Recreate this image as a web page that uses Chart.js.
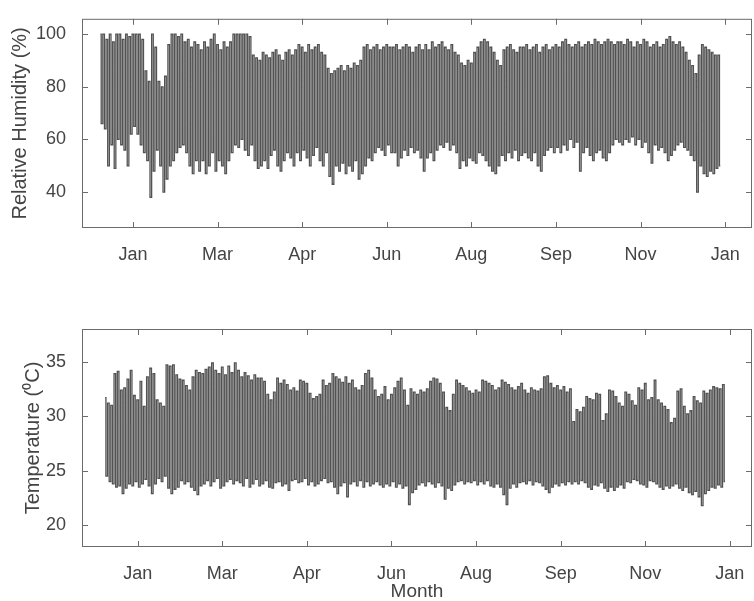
<!DOCTYPE html>
<html>
<head>
<meta charset="utf-8">
<script src="https://cdn.jsdelivr.net/npm/chart.js@4.4.1/dist/chart.umd.min.js"></script>
<style>
  body { margin: 0; background: #fff; }
  canvas { position: absolute; left: 0; }
  #rhChart { top: 0; }
  #tChart { top: 290px; }
</style>
</head>
<body>
<canvas id="rhChart" width="754" height="290"></canvas>
<canvas id="tChart" width="754" height="311"></canvas>
<script>
// Month tick labels and where they sit (days from start of record)
const monthLabels = ["Jan", "Mar", "Apr", "Jun", "Aug", "Sep", "Nov", "Jan"];
const monthTickDays = [20, 72, 124, 176, 228, 280, 332, 384];
const rhTicks = [40, 60, 80, 100];
const tTicks = [20, 25, 30, 35];

// Relative humidity: max and min of each 2-day block
const rhHigh = [
  100, 100, 98, 100, 97, 100, 100, 98, 100, 99,
  100, 100, 100, 98, 86, 82, 100, 95, 82, 80,
  84, 96, 100, 100, 99, 100, 97, 98, 95, 97,
  96, 94, 97, 95, 98, 100, 96, 94, 97, 95,
  97, 100, 100, 100, 100, 100, 99, 92, 91, 90,
  93, 92, 91, 93, 94, 92, 90, 93, 94, 92,
  94, 96, 95, 93, 96, 94, 95, 96, 93, 92,
  87, 85, 86, 87, 88, 86, 88, 87, 89, 88,
  90, 95, 96, 94, 95, 96, 94, 95, 96, 95,
  95, 96, 94, 95, 96, 95, 93, 95, 96, 94,
  96, 94, 97, 95, 96, 97, 95, 94, 96, 93,
  92, 89, 88, 90, 89, 93, 95, 97, 98, 97,
  95, 93, 90, 88, 94, 95, 96, 94, 93, 95,
  95, 96, 94, 95, 96, 93, 95, 96, 94, 95,
  96, 95, 97, 98, 96, 95, 96, 97, 95, 96,
  97, 96, 98, 97, 96, 97, 98, 97, 96, 97,
  97, 96, 98, 97, 95, 97, 96, 98, 97, 95,
  96, 97, 95, 96, 98, 99, 97, 96, 97, 95,
  93, 90, 88, 85, 92, 96, 95, 94, 93, 92, 92
];
const rhLow = [
  66, 64, 50, 58, 49, 60, 58, 56, 50, 62,
  65, 62, 58, 55, 52, 38, 48, 56, 50, 40,
  45, 50, 52, 55, 57, 58, 55, 50, 47, 52,
  48, 52, 47, 50, 55, 48, 52, 50, 47, 52,
  55, 58, 57, 60, 56, 54, 58, 52, 49, 50,
  52, 49, 54, 56, 50, 48, 52, 55, 53, 50,
  55, 52, 56, 53, 50, 54, 57, 52, 50, 55,
  46, 43, 50, 48, 51, 47, 50, 48, 52, 45,
  47, 50, 53, 52, 55, 57, 56, 54, 58, 55,
  55, 50, 53, 56, 54, 57, 55, 56, 53, 48,
  53, 55, 52, 56, 58, 57, 59, 56, 58, 55,
  49, 52, 50, 53, 52, 51, 55, 54, 52, 50,
  48, 47, 50, 54, 52, 55, 53, 56, 52, 54,
  55, 53, 52, 55, 50, 48, 54, 56, 57, 55,
  57, 55, 58, 56, 60, 57, 59, 48, 55, 57,
  54, 52, 55, 56, 53, 52, 55, 58, 60, 59,
  58, 60, 59, 61, 58, 60, 57, 59, 55, 51,
  58, 56, 57, 55, 52, 54, 56, 58, 59, 57,
  56, 54, 52, 40, 50, 47, 46, 48, 47, 49, 50
];

// Temperature, same 2-day blocks
const tHigh = [
  31.7, 31.2, 31.0, 33.9, 34.1, 32.4, 32.6, 33.4, 34.2, 31.9,
  31.5, 33.2, 30.9, 33.6, 34.4, 33.9, 31.5, 31.2, 30.9, 34.7,
  34.6, 34.7, 33.8, 33.4, 33.3, 32.8, 32.4, 33.6, 34.2, 34.0,
  33.9, 34.3, 34.5, 34.9, 34.2, 33.9, 34.5, 33.8, 34.6, 34.0,
  34.9, 34.2, 33.6, 34.0, 33.7, 33.3, 33.8, 33.5, 33.5, 33.2,
  32.0, 31.5, 32.2, 33.5, 33.0, 33.3, 32.9, 32.4, 32.6, 32.3,
  33.3, 33.2, 33.0, 32.1, 31.6, 31.8, 32.0, 33.3, 32.8, 33.0,
  33.9, 33.6, 33.4, 33.1, 33.6, 33.0, 33.3, 32.6, 32.4, 32.8,
  33.9, 34.2, 33.5, 32.4, 31.8, 32.0, 32.7, 31.5, 32.0, 32.6,
  33.2, 33.5, 32.4, 31.0, 32.5, 32.2, 32.0, 32.4, 32.2, 32.5,
  33.2, 33.5, 33.4, 33.0, 32.2, 30.8, 30.5, 32.0, 33.3, 33.0,
  32.8, 32.6, 32.3, 32.1, 32.4, 32.2, 33.3, 33.2, 33.0, 32.8,
  32.4, 32.6, 33.3, 33.1, 32.9, 32.6, 32.4, 32.7, 33.0, 32.4,
  32.1, 32.6, 32.4, 32.3, 32.5, 33.6, 33.7, 33.0, 32.6, 32.8,
  32.4, 32.7, 32.2, 32.5, 29.5, 30.6, 30.4, 30.8, 31.8, 31.6,
  31.5, 32.1, 32.0, 29.6, 30.2, 32.4, 32.3, 31.8, 31.2, 30.9,
  32.2, 32.0, 31.4, 31.0, 32.6, 32.4, 33.0, 31.5, 31.7, 33.3,
  31.5, 31.2, 30.9, 30.6, 29.4, 29.8, 32.3, 32.5, 30.9, 30.2,
  30.5, 31.8, 31.4, 31.2, 32.3, 32.1, 32.4, 32.7, 32.6, 32.5, 32.9
];
const tLow = [
  24.5, 24.0, 23.8, 23.5, 23.6, 22.9, 23.4, 23.8, 23.6, 24.0,
  23.5, 23.8, 24.2, 23.6, 22.9, 23.8, 24.3, 24.0, 24.5, 23.4,
  22.9, 23.3, 23.5, 24.1, 23.8, 24.0, 23.5, 23.2, 22.8, 23.6,
  23.8, 24.1, 23.6, 24.0, 24.3, 23.4, 23.6, 24.0, 24.2, 23.8,
  24.1, 23.9, 23.6, 24.3, 23.5, 23.8, 24.2, 23.6, 23.8, 24.1,
  23.5, 23.4, 23.9, 24.0, 23.6, 23.8, 23.2, 24.1, 24.2, 23.9,
  24.0, 24.3, 23.7, 24.0, 23.6, 23.8, 24.1, 24.3, 23.9, 24.0,
  23.5, 22.9, 23.6, 23.9, 22.6, 23.8, 24.0, 23.6, 24.1, 23.5,
  24.0, 23.6, 23.8, 24.0, 23.7, 23.5, 23.8, 23.6, 24.0, 23.5,
  23.8, 23.4, 23.6, 21.9, 23.0, 23.3, 23.7, 23.9, 23.6, 24.0,
  23.8, 23.5, 23.9, 23.6, 22.4, 23.4, 23.2, 23.7, 24.0, 24.1,
  23.8, 24.0, 23.9, 24.1, 23.7, 24.0, 23.8, 24.1, 23.6, 23.5,
  23.8, 23.5, 22.8, 21.9, 23.4, 23.8, 23.5, 23.9, 24.0, 23.8,
  24.1, 23.7, 24.0, 23.9, 23.6, 23.3, 23.0, 23.5, 23.8, 23.6,
  23.9, 23.7, 24.0, 23.8, 24.0, 23.8, 24.1, 23.9, 23.5, 23.3,
  23.7, 23.6, 23.9, 23.4, 23.1, 23.5, 23.2, 23.5, 23.7, 23.4,
  24.0, 23.9, 24.2, 24.1, 23.8, 23.7, 23.5, 24.1, 24.0, 23.8,
  23.5, 23.3, 23.6, 23.4, 23.6, 23.8, 23.4, 23.2, 23.5, 23.0,
  22.8, 23.1, 22.6, 21.8, 22.9, 23.2, 23.5, 23.4, 23.7, 23.5, 24.0
];

// alternate the block max/min; drawn stepped so each swing is a vertical stroke
function buildPoints(high, low) {
  const pts = [];
  for (let i = 0; i < high.length; i++) {
    pts.push({ x: 2 * i, y: high[i] });
    pts.push({ x: 2 * i + 1, y: low[i] });
  }
  return pts;
}

const textColor = '#444';
const frameColor = '#6b6b6b';

// MATLAB style box with inward ticks on all sides
const framePlugin = {
  id: 'frame',
  afterDatasetsDraw(chart) {
    const ctx = chart.ctx;
    const a = chart.chartArea;
    const xs = chart.scales.x, ys = chart.scales.y;
    ctx.save();
    ctx.strokeStyle = frameColor;
    ctx.lineWidth = 1;
    ctx.beginPath();
    xs.ticks.forEach(t => {
      const px = Math.round(xs.getPixelForValue(t.value)) + 0.5;
      ctx.moveTo(px, a.bottom); ctx.lineTo(px, a.bottom - 6);
      ctx.moveTo(px, a.top); ctx.lineTo(px, a.top + 6);
    });
    ys.ticks.forEach(t => {
      const py = Math.round(ys.getPixelForValue(t.value)) + 0.5;
      ctx.moveTo(a.left, py); ctx.lineTo(a.left + 6, py);
      ctx.moveTo(a.right, py); ctx.lineTo(a.right - 6, py);
    });
    ctx.stroke();
    ctx.strokeRect(a.left + 0.5, a.top + 0.5, a.right - a.left - 1, a.bottom - a.top - 1);
    ctx.restore();
  }
};

function makeChart(id, points, opt) {
  return new Chart(id, {
    type: 'line',
    data: {
      datasets: [{
        data: points,
        borderColor: '#525252',
        borderWidth: 1.3,
        pointRadius: 0,
        stepped: 'middle'
      }]
    },
    options: {
      responsive: false,
      animation: false,
      events: [],
      layout: { padding: { top: opt.padTop, right: 2, left: 0, bottom: 0 } },
      plugins: { legend: { display: false }, tooltip: { enabled: false } },
      scales: {
        x: {
          type: 'linear',
          min: opt.xMin,
          max: opt.xMax,
          grid: { display: false },
          border: { display: false },
          afterFit: s => { s.height = opt.xHeight; },
          afterBuildTicks: s => { s.ticks = monthTickDays.map(v => ({ value: v })); },
          ticks: {
            padding: 8,
            color: textColor,
            font: { family: 'Liberation Sans', size: 18 },
            maxRotation: 0,
            autoSkip: false,
            callback: (v) => monthLabels[monthTickDays.indexOf(v)]
          },
          title: {
            display: !!opt.xTitle,
            text: opt.xTitle || '',
            color: textColor,
            font: { family: 'Liberation Sans', size: 19, lineHeight: 1 },
            padding: 0
          }
        },
        y: {
          min: opt.yMin,
          max: opt.yMax,
          grid: { display: false },
          border: { display: false },
          afterFit: s => { s.width = 82; },
          afterBuildTicks: s => { s.ticks = opt.yTicks.map(v => ({ value: v })); },
          ticks: {
            padding: 8,
            color: textColor,
            font: { family: 'Liberation Sans', size: 18 }
          },
          title: {
            display: true,
            text: opt.yTitle,
            color: textColor,
            font: { family: 'Liberation Sans', size: 20, lineHeight: 1.2 },
            padding: { top: opt.yTitlePad, bottom: 0 }
          }
        }
      }
    },
    plugins: [framePlugin]
  });
}

makeChart('rhChart', buildPoints(rhHigh, rhLow), {
  padTop: 12, xHeight: 62, xMin: -11.3, xMax: 400.5,
  yMin: 26.4, yMax: 105.8, yTicks: rhTicks,
  yTitle: 'Relative Humidity (%)', yTitlePad: 8
});

makeChart('tChart', buildPoints(tHigh, tLow), {
  padTop: 39, xHeight: 54, xMin: -14.2, xMax: 397.6,
  yMin: 18, yMax: 38, yTicks: tTicks,
  yTitle: 'Temperature (\u2070C)', yTitlePad: 21,
  xTitle: 'Month'
});
</script>
</body>
</html>
